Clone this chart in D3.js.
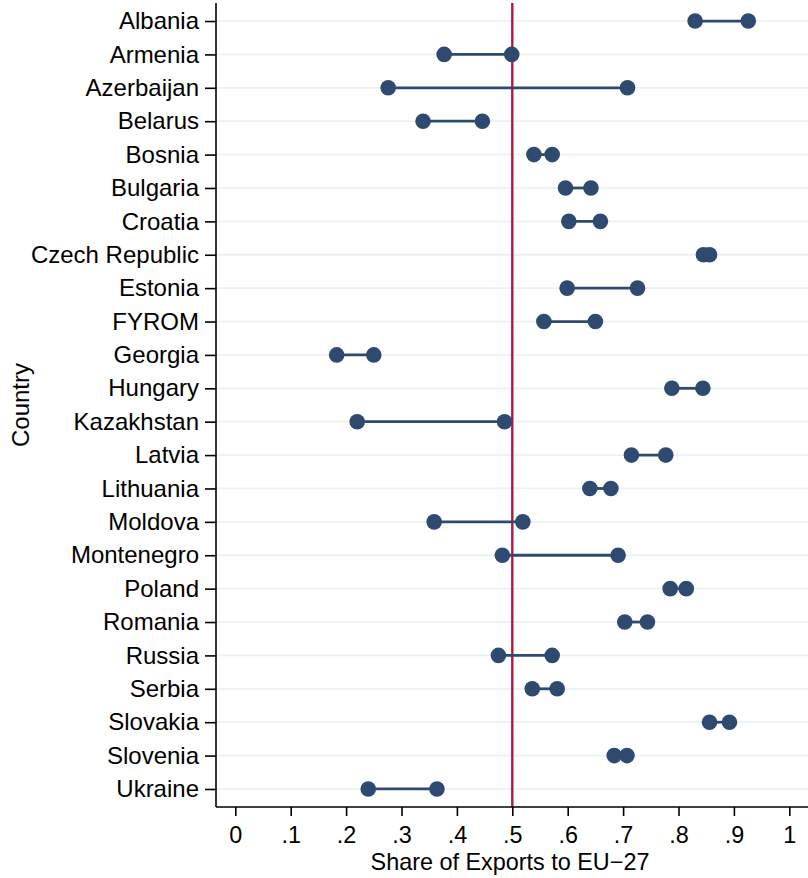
<!DOCTYPE html>
<html>
<head>
<meta charset="utf-8">
<script src="https://cdn.jsdelivr.net/npm/d3@7"></script>
<style>
  html, body { margin: 0; padding: 0; background: #fff; }
  svg { display: block; }
  text { font-family: "Liberation Sans", Arial, Helvetica, sans-serif; fill: #000; }
</style>
</head>
<body>
<svg id="chart" width="808" height="878"></svg>
<script>
// Countries, top to bottom
const countries = ["Albania", "Armenia", "Azerbaijan", "Belarus", "Bosnia", "Bulgaria",
  "Croatia", "Czech Republic", "Estonia", "FYROM", "Georgia", "Hungary", "Kazakhstan",
  "Latvia", "Lithuania", "Moldova", "Montenegro", "Poland", "Romania", "Russia",
  "Serbia", "Slovakia", "Slovenia", "Ukraine"];

// Lower and upper share of exports going to the EU-27
const shareLow = [0.830, 0.377, 0.276, 0.339, 0.539, 0.596, 0.602, 0.845, 0.599, 0.557,
  0.183, 0.788, 0.220, 0.715, 0.640, 0.359, 0.482, 0.785, 0.703, 0.475, 0.536, 0.856,
  0.684, 0.240];
const shareHigh = [0.926, 0.499, 0.708, 0.446, 0.572, 0.642, 0.659, 0.856, 0.726, 0.650,
  0.250, 0.844, 0.486, 0.777, 0.678, 0.519, 0.691, 0.814, 0.744, 0.572, 0.581, 0.892,
  0.707, 0.364];

const xTicks = [0, 0.1, 0.2, 0.3, 0.4, 0.5, 0.6, 0.7, 0.8, 0.9, 1];
const refLine = 0.5;
const xTitle = "Share of Exports to EU\u221227";
const yTitle = "Country";

const rows = countries.map((c, i) => ({ country: c, lo: shareLow[i], hi: shareHigh[i] }));

const svg = d3.select("#chart");
const plotLeft = 216, plotRight = 808, plotTop = 3, plotBottom = 807;

const x = d3.scaleLinear().domain([0, 1]).range([235.3, 789.3]);
const y = d3.scalePoint().domain(countries).range([plotTop, plotBottom]).padding(0.54);

const navy = "#2f4a70";
const yFont = 24;
const xFont = 23.4;
const fontFamily = "'Liberation Sans', Arial, Helvetica, sans-serif";

// Horizontal grid lines
svg.append("g").selectAll("line").data(countries).join("line")
  .attr("x1", plotLeft).attr("x2", plotRight)
  .attr("y1", d => y(d)).attr("y2", d => y(d))
  .attr("stroke", "#eaf2f3").attr("stroke-width", 1.8);

// Reference line at one half
svg.append("line")
  .attr("x1", x(refLine)).attr("x2", x(refLine))
  .attr("y1", plotTop).attr("y2", plotBottom)
  .attr("stroke", "#b5173c").attr("stroke-width", 2.4);

// Connecting segments
svg.append("g").selectAll("line").data(rows).join("line")
  .attr("x1", d => x(d.lo)).attr("x2", d => x(d.hi))
  .attr("y1", d => y(d.country)).attr("y2", d => y(d.country))
  .attr("stroke", navy).attr("stroke-width", 2.8);

// End points
const pts = rows.flatMap(d => [{ c: d.country, v: d.lo }, { c: d.country, v: d.hi }]);
svg.append("g").selectAll("circle").data(pts).join("circle")
  .attr("cx", d => x(d.v)).attr("cy", d => y(d.c))
  .attr("r", 7.8).attr("fill", navy);

// Y axis
const yAxis = svg.append("g").attr("transform", `translate(${plotLeft},0)`)
  .call(d3.axisLeft(y).tickSize(11).tickPadding(6));
yAxis.select(".domain").attr("d", `M0,${plotTop}V${plotBottom}`).attr("stroke", "#000").attr("stroke-width", 1.6);
yAxis.selectAll(".tick line").attr("stroke", "#000").attr("stroke-width", 1.6);
yAxis.selectAll(".tick text").attr("font-size", yFont)
  .attr("font-family", fontFamily).attr("fill", "#000");

// X axis
const fmt = v => v === 0 ? "0" : v === 1 ? "1" : d3.format(".1f")(v).replace(/^0/, "");
const xAxis = svg.append("g").attr("transform", `translate(0,${plotBottom})`)
  .call(d3.axisBottom(x).tickValues(xTicks).tickFormat(fmt).tickSize(9).tickPadding(10.5));
xAxis.select(".domain").attr("d", `M${plotLeft},0H${plotRight}`).attr("stroke", "#000").attr("stroke-width", 1.6);
xAxis.selectAll(".tick line").attr("stroke", "#000").attr("stroke-width", 1.6);
xAxis.selectAll(".tick text").attr("font-size", xFont)
  .attr("font-family", fontFamily).attr("fill", "#000");

// Axis titles
svg.append("text")
  .attr("x", 510).attr("y", 870)
  .attr("text-anchor", "middle").attr("font-size", xFont)
  .text(xTitle);

svg.append("text")
  .attr("transform", `translate(29,${(plotTop + plotBottom) / 2}) rotate(-90)`)
  .attr("text-anchor", "middle").attr("font-size", yFont)
  .text(yTitle);
</script>
</body>
</html>
